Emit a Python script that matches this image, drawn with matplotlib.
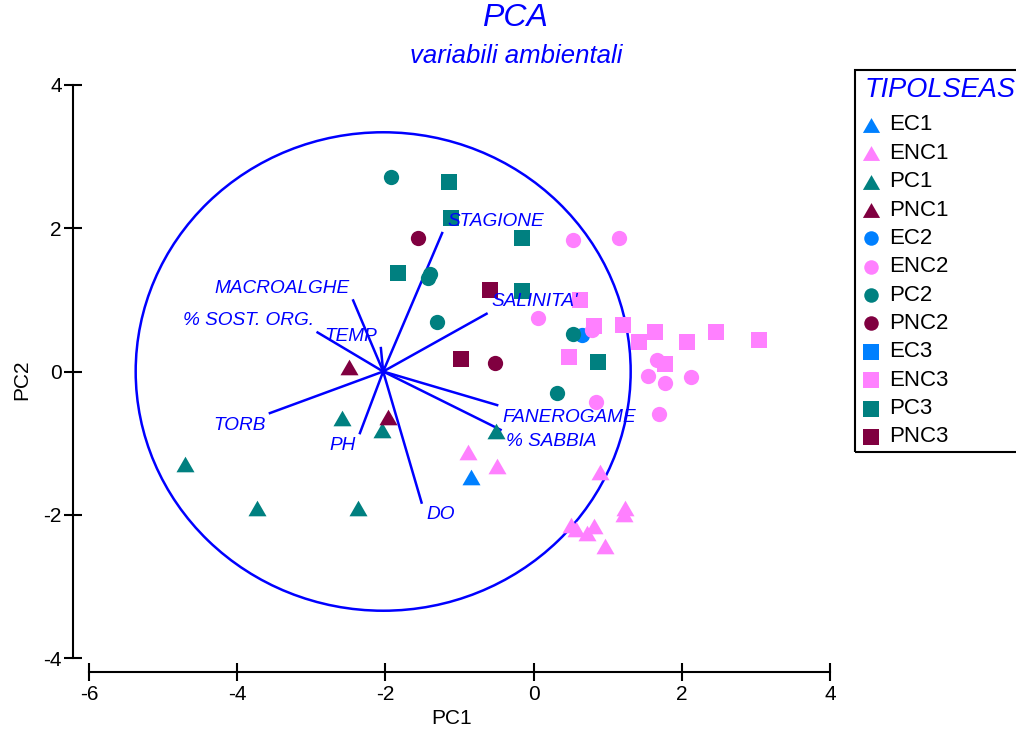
import matplotlib
matplotlib.use('Agg')
import matplotlib.pyplot as plt
from matplotlib.lines import Line2D
from matplotlib.patches import Circle, Rectangle

plt.rcParams['font.family'] = ['Liberation Sans', 'DejaVu Sans']
plt.rcParams['axes.unicode_minus'] = False

# --- campioni (PC1, PC2) per gruppo ---
ec1_x = [-0.85]
ec1_y = [-1.47]
enc1_x = [-0.88, -0.49, 0.89, 1.23, 1.22, 0.50, 0.57, 0.72, 0.81, 0.96]
enc1_y = [-1.13, -1.32, -1.40, -1.91, -1.99, -2.14, -2.20, -2.25, -2.16, -2.44]
pc1_x = [-4.70, -3.73, -2.37, -2.58, -2.04, -0.51]
pc1_y = [-1.29, -1.91, -1.91, -0.65, -0.82, -0.83]
pnc1_x = [-2.49, -1.97]
pnc1_y = [0.06, -0.63]

ec2_x = [0.65]
ec2_y = [0.51]
enc2_x = [0.53, 1.15, 0.06, 0.79, 1.67, 1.55, 1.78, 2.12, 0.84, 1.69]
enc2_y = [1.83, 1.86, 0.74, 0.58, 0.16, -0.06, -0.16, -0.08, -0.42, -0.60]
pc2_x = [-1.93, -1.40, -1.43, -1.31, 0.53, 0.32]
pc2_y = [2.71, 1.36, 1.31, 0.69, 0.53, -0.30]
pnc2_x = [-1.56, -0.52]
pnc2_y = [1.86, 0.12]

ec3_x = [0.81]
ec3_y = [0.64]
enc3_x = [0.63, 0.81, 1.21, 1.64, 1.42, 2.07, 2.46, 3.04, 1.77, 0.48]
enc3_y = [1.00, 0.64, 0.65, 0.55, 0.41, 0.41, 0.55, 0.44, 0.10, 0.20]
pc3_x = [-1.14, -1.11, -0.16, -0.16, -1.83, 0.87]
pc3_y = [2.64, 2.14, 1.87, 1.12, 1.37, 0.13]
pnc3_x = [-0.59, -0.98]
pnc3_y = [1.14, 0.17]

# --- vettori delle variabili ambientali ---
var_names = ['MACROALGHE', '% SOST. ORG.', 'TEMP', 'TORB', 'PH', 'DO',
             'STAGIONE', "SALINITA'", 'FANEROGAME', '% SABBIA']
var_dx = [-0.405, -0.885, -0.031, -1.529, -0.314, 0.518, 0.796, 1.395, 1.538, 1.584]
var_dy = [0.992, 0.545, 0.327, -0.581, -0.860, -1.830, 1.933, 0.806, -0.469, -0.814]
origin = (-2.03, 0.0)
circle_r = 3.34

# --- stile dei gruppi ---
tri = [(-1, -0.866), (1, -0.866), (0, 0.866)]
c_ec, c_enc, c_pc, c_pnc = '#0080FF', '#FF80FF', '#008080', '#800040'

groups = [
    ('EC1', ec1_x, ec1_y, tri, c_ec, 13),
    ('ENC1', enc1_x, enc1_y, tri, c_enc, 13),
    ('PC1', pc1_x, pc1_y, tri, c_pc, 13),
    ('PNC1', pnc1_x, pnc1_y, tri, c_pnc, 13),
    ('EC2', ec2_x, ec2_y, 'o', c_ec, 11),
    ('ENC2', enc2_x, enc2_y, 'o', c_enc, 11),
    ('PC2', pc2_x, pc2_y, 'o', c_pc, 11),
    ('PNC2', pnc2_x, pnc2_y, 'o', c_pnc, 11),
    ('EC3', ec3_x, ec3_y, 's', c_ec, 11.5),
    ('ENC3', enc3_x, enc3_y, 's', c_enc, 11.5),
    ('PC3', pc3_x, pc3_y, 's', c_pc, 11.5),
    ('PNC3', pnc3_x, pnc3_y, 's', c_pnc, 11.5),
]

W, H = 1016, 733
fig = plt.figure(figsize=(W / 100, H / 100), dpi=100)
ax = fig.add_axes([89 / W, 75 / H, 741 / W, 573 / H])
ax.set_xlim(-6, 4)
ax.set_ylim(-4, 4)

# cerchio e vettori
ax.add_patch(Circle(origin, circle_r, fill=False, ec='blue', lw=1.8, clip_on=False))
for name, dx, dy in zip(var_names, var_dx, var_dy):
    ex, ey = origin[0] + dx, origin[1] + dy
    ax.plot([origin[0], ex], [origin[1], ey], color='blue', lw=1.8, zorder=2)
    ha = 'left' if dx > 0 else 'right'
    ox = 5 if dx > 0 else -4
    oy = 12 if dy > 0 else -12
    ax.annotate(name, xy=(ex, ey), xytext=(ox, oy), textcoords='offset pixels',
                ha=ha, va='center', color='blue', fontsize=13.7, style='italic', zorder=4)

for name, xs, ys, mk, col, ms in groups:
    ax.plot(xs, ys, ls='none', marker=mk, color=col, ms=ms, mew=0, zorder=3)

# assi staccati, stile PRIMER
for s in ['top', 'right']:
    ax.spines[s].set_visible(False)
ax.spines['left'].set_position(('outward', 11.5))
ax.spines['bottom'].set_position(('outward', 10))
for s in ['left', 'bottom']:
    ax.spines[s].set_linewidth(1.5)
ax.set_xticks([-6, -4, -2, 0, 2, 4])
ax.set_yticks([-4, -2, 0, 2, 4])
ax.tick_params(direction='inout', length=13, width=1.5, labelsize=15)
ax.tick_params(axis='x', pad=3)
ax.tick_params(axis='y', pad=1.5)
ax.set_xlabel('PC1', fontsize=15)
ax.xaxis.set_label_coords((452 - 89) / 741, (733 - 709 - 75) / 573)
ax.set_ylabel('PC2', fontsize=15)
ax.yaxis.set_label_coords((31 - 89) / 741, (733 - 380 - 75) / 573)

# titoli
fig.text(515 / W, 1 - 18 / H, 'PCA', ha='center', va='center',
         color='blue', fontsize=23, style='italic')
fig.text(516 / W, 1 - 56 / H, 'variabili ambientali', ha='center', va='center',
         color='blue', fontsize=18.5, style='italic')

# legenda
fig.add_artist(Rectangle((855 / W, 1 - 452 / H), 200 / W, 382 / H,
                         transform=fig.transFigure, fill=False, ec='black', lw=1.5))
fig.text(865 / W, 1 - 90 / H, 'TIPOLSEAS', ha='left', va='center',
         color='blue', fontsize=19.5, style='italic')
for i, (name, xs, ys, mk, col, ms) in enumerate(groups):
    yy = 1 - (125 + i * 28.35) / H
    fig.add_artist(Line2D([871 / W], [yy], transform=fig.transFigure, ls='none',
                          marker=mk, color=col, ms=ms * 0.95, mew=0))
    fig.text(889 / W, yy, name, ha='left', va='center', fontsize=16, color='black')

fig.savefig('out.png', dpi=100)
